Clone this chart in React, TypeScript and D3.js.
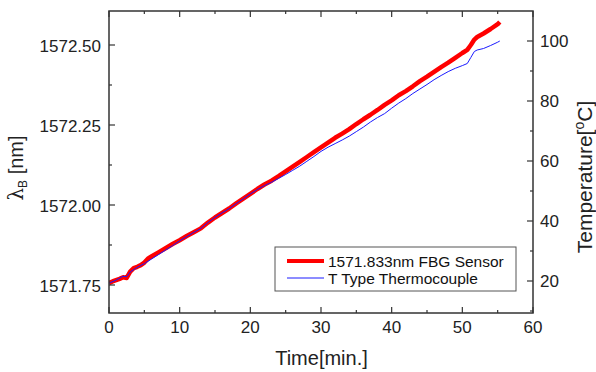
import React from "react";
import * as d3 from "d3";

const timeFBG = [0, 0.5, 1, 1.5, 2, 2.5, 3, 3.5, 4, 4.5, 5, 5.5, 6, 7, 8, 9, 10, 11, 12, 13, 14, 15, 16, 17, 18, 19, 20, 21, 22, 23, 24, 25, 26, 27, 28, 29, 30, 31, 32, 33, 34, 35, 36, 37, 38, 39, 40, 41, 42, 43, 44, 45, 46, 47, 48, 49, 50, 50.7, 51.2, 51.7, 52.1, 53, 54, 55, 55.3];
const wavelengthFBG = [1571.756, 1571.761, 1571.765, 1571.769, 1571.774, 1571.772, 1571.792, 1571.803, 1571.807, 1571.812, 1571.82, 1571.832, 1571.839, 1571.852, 1571.865, 1571.878, 1571.89, 1571.903, 1571.915, 1571.927, 1571.945, 1571.961, 1571.975, 1571.989, 1572.005, 1572.02, 1572.035, 1572.05, 1572.064, 1572.076, 1572.09, 1572.105, 1572.12, 1572.135, 1572.15, 1572.165, 1572.18, 1572.195, 1572.21, 1572.223, 1572.237, 1572.253, 1572.268, 1572.282, 1572.297, 1572.313, 1572.327, 1572.343, 1572.356, 1572.371, 1572.387, 1572.401, 1572.416, 1572.431, 1572.445, 1572.46, 1572.475, 1572.485, 1572.5, 1572.517, 1572.525, 1572.536, 1572.55, 1572.565, 1572.572];

const timeTC = [0, 1, 2, 2.5, 3, 4, 5, 6, 7, 8, 9, 10, 11, 12, 13, 14, 15, 16, 17, 18, 19, 20, 21, 22, 23, 24, 25, 26, 27, 28, 29, 30, 31, 32, 33, 34, 35, 36, 37, 38, 39, 40, 41, 42, 43, 44, 45, 46, 47, 48, 49, 50, 50.7, 51.2, 51.7, 52.1, 53, 54, 55, 55.3];
const tempTC = [19.3, 20.3, 21.6, 21.4, 23.0, 24.6, 25.8, 27.3, 28.8, 30.3, 31.8, 33.4, 34.8, 36.2, 37.5, 39.5, 41.2, 42.7, 44.1, 45.8, 47.4, 49.0, 50.5, 51.8, 52.9, 54.2, 55.5, 56.9, 58.3, 59.9, 61.5, 63.2, 64.6, 65.8, 67.0, 68.3, 69.8, 71.3, 73.0, 74.5, 75.8, 77.6, 79.3, 80.8, 82.5, 84.0, 85.5, 87.1, 88.5, 89.8, 90.9, 91.8, 92.5, 94.5, 96.5, 97.0, 97.5, 98.5, 99.6, 100];

const xTicks = [0, 10, 20, 30, 40, 50, 60];
const xMinor = [5, 15, 25, 35, 45, 55];
const leftTicks = [1571.75, 1572.0, 1572.25, 1572.5];
const leftMinor = [1571.875, 1572.125, 1572.375];
const rightTicks = [20, 40, 60, 80, 100];
const rightMinor = [10, 30, 50, 70, 90];
const legendLabels = ["1571.833nm FBG Sensor", "T Type Thermocouple"];

const W = 596, H = 372;
const L = 109, R = 533, T = 11, B = 313;
const FONT = "'Liberation Sans', Arial, sans-serif";
const AX = "#333";

export default function App() {
  const x = d3.scaleLinear().domain([0, 60]).range([L, R]);
  const yL = d3.scaleLinear().domain([1571.6625, 1572.60625]).range([B, T]);
  const yR = d3.scaleLinear().domain([9.333, 110]).range([B, T]);

  const fbg = timeFBG.map((t, i) => [t, wavelengthFBG[i]] as [number, number]);
  const tc = timeTC.map((t, i) => [t, tempTC[i]] as [number, number]);
  const lineL = d3.line<[number, number]>().x(d => x(d[0])).y(d => yL(d[1]));
  const lineR = d3.line<[number, number]>().x(d => x(d[0])).y(d => yR(d[1]));

  return (
    <svg width={W} height={H} style={{ position: "absolute", left: 0, top: 0 }} fontFamily={FONT}>
      <defs>
        <clipPath id="plot"><rect x={L} y={T} width={R - L} height={B - T} /></clipPath>
      </defs>
      <g clipPath="url(#plot)">
        <path d={lineL(fbg) || ""} fill="none" stroke="#ff0000" strokeWidth={4.5} strokeLinejoin="round" />
        <path d={lineR(tc) || ""} fill="none" stroke="#1a1aff" strokeWidth={1} />
      </g>
      <rect x={L} y={T} width={R - L} height={B - T} fill="none" stroke={AX} strokeWidth={1.5} />
      {xTicks.map(v => (
        <g key={"x" + v}>
          <line x1={x(v)} x2={x(v)} y1={B} y2={B - 6} stroke={AX} strokeWidth={1.2} />
          <line x1={x(v)} x2={x(v)} y1={T} y2={T + 6} stroke={AX} strokeWidth={1.2} />
          <text x={x(v)} y={333} textAnchor="middle" fontSize={17} fill="#222">{v}</text>
        </g>
      ))}
      {xMinor.map(v => (
        <g key={"xm" + v}>
          <line x1={x(v)} x2={x(v)} y1={B} y2={B - 3} stroke={AX} strokeWidth={1.2} />
          <line x1={x(v)} x2={x(v)} y1={T} y2={T + 3} stroke={AX} strokeWidth={1.2} />
        </g>
      ))}
      {leftTicks.map(v => (
        <g key={"l" + v}>
          <line x1={L} x2={L + 6} y1={yL(v)} y2={yL(v)} stroke={AX} strokeWidth={1.2} />
          <text x={101} y={yL(v) + 6.5} textAnchor="end" fontSize={17} fill="#222">{v.toFixed(2)}</text>
        </g>
      ))}
      {leftMinor.map(v => (
        <line key={"lm" + v} x1={L} x2={L + 3} y1={yL(v)} y2={yL(v)} stroke={AX} strokeWidth={1.2} />
      ))}
      {rightTicks.map(v => (
        <g key={"r" + v}>
          <line x1={R} x2={R - 6} y1={yR(v)} y2={yR(v)} stroke={AX} strokeWidth={1.2} />
          <text x={540} y={yR(v) + 6.5} textAnchor="start" fontSize={17} fill="#222">{v}</text>
        </g>
      ))}
      {rightMinor.map(v => (
        <line key={"rm" + v} x1={R} x2={R - 3} y1={yR(v)} y2={yR(v)} stroke={AX} strokeWidth={1.2} />
      ))}
      <text x={321.5} y={365} textAnchor="middle" fontSize={20} fill="#222">Time[min.]</text>
      <text transform={`translate(23,168) rotate(-90)`} textAnchor="middle" fontSize={20} fill="#222">
        <tspan fontFamily="'DejaVu Serif', serif">λ</tspan>
        <tspan fontSize={12} dy={4}>B</tspan>
        <tspan dy={-4}> [nm]</tspan>
      </text>
      <text transform={`translate(592,177) rotate(-90)`} textAnchor="middle" fontSize={21} fill="#222">
        Temperature[<tspan fontSize={14} dy={-8}>o</tspan><tspan dy={8}>C]</tspan>
      </text>
      <g>
        <rect x={275} y={247} width={241} height={44} fill="#fff" stroke="#555" strokeWidth={1} />
        <line x1={287} x2={324} y1={261} y2={261} stroke="#ff0000" strokeWidth={4} />
        <line x1={287} x2={324} y1={278} y2={278} stroke="#1a1aff" strokeWidth={1} />
        <text x={328} y={266.5} fontSize={15.5} fill="#111">{legendLabels[0]}</text>
        <text x={328} y={284} fontSize={15.5} fill="#111">{legendLabels[1]}</text>
      </g>
    </svg>
  );
}
